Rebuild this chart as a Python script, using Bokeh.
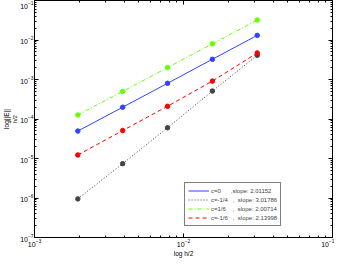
from bokeh.plotting import figure
from bokeh.models import LogAxis, Title, Legend, LegendItem, Range1d, FixedTicker, LogTickFormatter
from bokeh.embed import file_html
from bokeh.resources import INLINE

# data
h2 = [1/512, 1/256, 1/128, 1/64, 1/32]
err_c0 = [4.95e-5, 1.99e-4, 8.0e-4, 3.25e-3, 1.31e-2]
err_cm14 = [9.5e-7, 7.4e-6, 6.0e-5, 5.1e-4, 4.1e-3]
err_c16 = [1.26e-4, 5.0e-4, 2.0e-3, 8.0e-3, 3.2e-2]
err_cm16 = [1.23e-5, 5.1e-5, 2.1e-4, 9.1e-4, 4.7e-3]
labels = ["c=0      ,slope: 2.01152",
          "c=-1/4   ,  slope: 3.01786",
          "c=1/6    ,  slope: 2.00714",
          "c=-1/6   ,  slope: 2.13998"]
x_decades = [1e-3, 1e-2, 1e-1]
y_decades = [1e-7, 1e-6, 1e-5, 1e-4, 1e-3, 1e-2, 1e-1]

FONT = "Liberation Sans"

def minors(decs):
    out = []
    for d in decs[:-1]:
        out += [d * k for k in range(2, 10)]
    return out

p = figure(width=334, height=259, x_axis_type="log", y_axis_type="log",
           x_range=Range1d(1e-3, 1e-1), y_range=Range1d(1e-7, 1e-1),
           output_backend="svg", toolbar_location=None,
           min_border_left=0, min_border_right=2, min_border_top=0, min_border_bottom=0)
p.xgrid.visible = False
p.ygrid.visible = False
p.outline_line_color = "black"
p.outline_line_width = 1

p.xaxis.ticker = FixedTicker(ticks=x_decades, minor_ticks=minors(x_decades))
p.yaxis.ticker = FixedTicker(ticks=y_decades, minor_ticks=minors(y_decades))
for ax in [p.xaxis[0], p.yaxis[0]]:
    ax.formatter = LogTickFormatter()
    ax.major_tick_in = 4
    ax.major_tick_out = 0
    ax.minor_tick_in = 2
    ax.minor_tick_out = 0
    ax.major_label_text_font = FONT
    ax.major_label_text_font_size = "7px"
    ax.major_label_text_color = "black"
    ax.axis_line_color = "black"
    ax.major_tick_line_color = "black"
    ax.minor_tick_line_color = "black"
    ax.major_label_standoff = 1
p.xaxis.axis_label = "log h/2"
p.xaxis.axis_label_text_font = FONT
p.xaxis.axis_label_text_font_size = "6.5px"
p.xaxis.axis_label_text_font_style = "normal"
p.xaxis.axis_label_text_color = "black"
p.xaxis.axis_label_standoff = 0

for loc, decs in [("above", x_decades), ("right", y_decades)]:
    a = LogAxis(ticker=FixedTicker(ticks=decs, minor_ticks=minors(decs)))
    a.major_tick_in = 4
    a.major_tick_out = 0
    a.minor_tick_in = 2
    a.minor_tick_out = 0
    a.major_label_overrides = {d: "" for d in decs}
    a.major_label_standoff = 0
    a.axis_line_color = "black"
    p.add_layout(a, loc)

# y-axis title: subscript column next to the axis, main text outside it
p.add_layout(Title(text="h/2", align="center", offset=14, standoff=0,
                   text_line_height=0.7,
                   text_font=FONT, text_font_size="5.5px", text_font_style="normal",
                   text_color="black"), "left")
p.add_layout(Title(text="log||E||", align="center", offset=2, standoff=0,
                   text_line_height=0.7,
                   text_font=FONT, text_font_size="6.5px", text_font_style="normal",
                   text_color="black"), "left")

styles = [
    (err_c0, "#2f45ff", "solid"),
    (err_cm14, "#444444", "1 2"),
    (err_c16, "#66ff00", "4 2 1 2"),
    (err_cm16, "#ff0000", "4 3"),
]
items = []
for (ys, col, dash), lab in zip(styles, labels):
    r = p.line(h2, ys, line_color=col, line_dash=dash, line_width=1)
    p.scatter(h2, ys, size=4.5, marker="circle", fill_color=col, line_color=col)
    items.append(LegendItem(label=lab, renderers=[r]))

legend = Legend(items=items, location=(150, 11), margin=0, padding=3, spacing=0,
                label_text_font=FONT, label_text_font_size="6px", label_height=9,
                glyph_height=9, glyph_width=21, label_standoff=2,
                border_line_color="black", border_line_width=1,
                background_fill_alpha=1)
p.add_layout(legend)

open("out.html", "w").write(file_html(p, INLINE))
